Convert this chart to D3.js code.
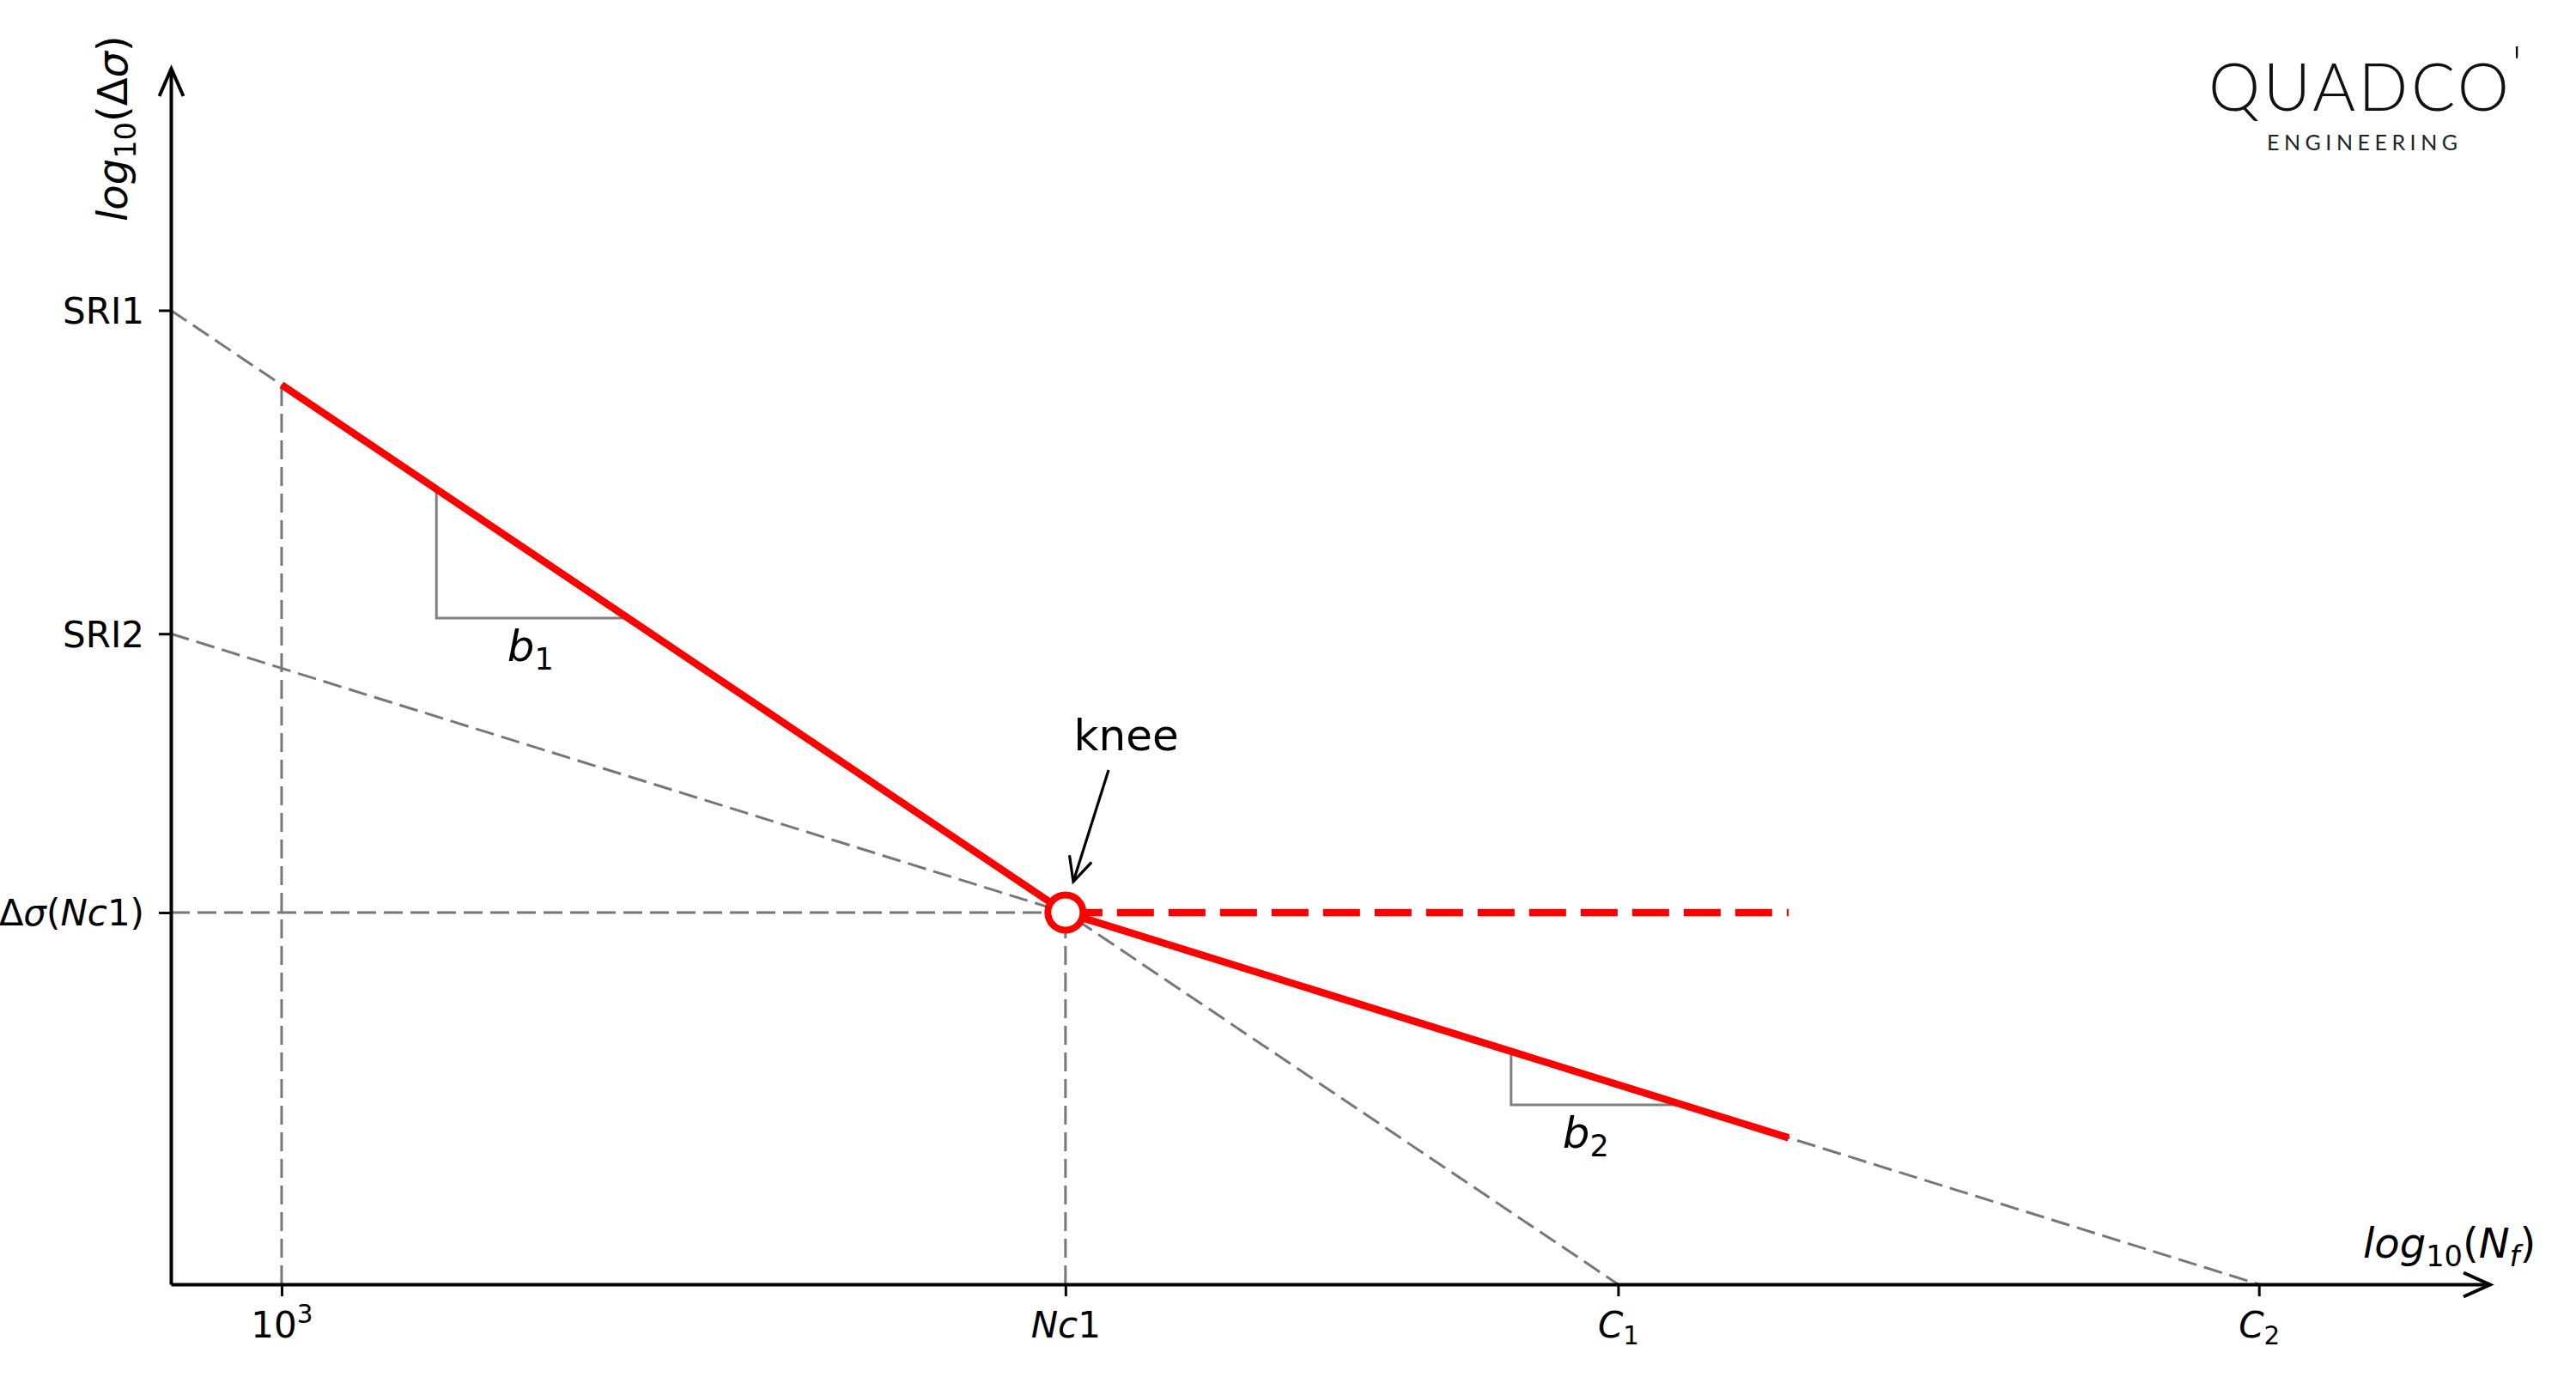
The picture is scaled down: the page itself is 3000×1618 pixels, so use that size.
<!DOCTYPE html>
<html>
<head>
<meta charset="utf-8">
<script src="https://cdn.jsdelivr.net/npm/d3@7"></script>
<style>
  html, body { margin: 0; padding: 0; background: #ffffff; }
  svg { display: block; }
</style>
</head>
<body>
<svg id="chart" width="3000" height="1618"></svg>
<script>
// ---------- data (schematic S-N curve, log10 units) ----------
const xDomain = [2.435, 14.27];            // log10(Nf) axis extent
const yDomain = [0, 6.54];                 // log10(Δσ) axis extent

const xTickValues = [3, 7, 9.82, 13.09];
const xTickLabels = ["10^{3}", "*Nc*1", "*C*_{1}", "*C*_{2}"];

const yTickValues = [5.24, 3.50, 2.00];
const yTickLabels = ["SRI1", "SRI2", "Δ*σ*(*Nc*1)"];

// grey dashed construction lines
const sri1Line   = [[2.435, 5.24], [9.82, 0]];
const sri2Line   = [[2.435, 3.50], [13.09, 0]];
const guide1000  = [[3, 0], [3, 4.839]];
const guideNc1   = [[7, 0], [7, 2.0]];
const guideKnee  = [[2.435, 2.0], [7, 2.0]];

// red S-N curve
const segment1   = [[3, 4.839], [7, 2.0]];
const segment2   = [[7, 2.0], [10.69, 0.788]];
const cutoffLine = [[7, 2.0], [10.69, 2.0]];
const kneePoint  = [7, 2.0];

// slope triangles
const triangle1  = [[3.79, 4.279], [3.79, 3.584], [4.769, 3.584]];
const triangle2  = [[9.274, 1.253], [9.274, 0.965], [10.152, 0.965]];

// annotations
const slopeLabels = [{ text: "*b*_{1}", at: [4.27, 3.353] }, { text: "*b*_{2}", at: [9.655, 0.734] }];
const kneeLabel   = { text: "knee", at: [7.31, 2.873] };
const kneeArrow   = [[7.22, 2.767], [7.04, 2.166]];

const xAxisLabel = "*log*_{10}(*N*_{*f*})";
const yAxisLabel = "*log*_{10}(Δ*σ*)";
const logoMain = "QUADCO";
const logoSub  = "ENGINEERING";

// ---------- setup ----------
const svg = d3.select("#chart");
const FONT = "'DejaVu Sans', sans-serif";
const x = d3.scaleLinear().domain(xDomain).range([199, 2900]);
const y = d3.scaleLinear().domain(yDomain).range([1496, 80]);
const line = d3.line().x(d => x(d[0])).y(d => y(d[1]));

// mini markup: *italic*, _{sub}, ^{sup}
function parseRich(str) {
  const runs = [];
  let italic = false, level = 0, i = 0, buf = "";
  const flush = () => { if (buf) { runs.push({ text: buf, italic, level }); buf = ""; } };
  while (i < str.length) {
    const c = str[i];
    if (c === "*") { flush(); italic = !italic; i++; }
    else if ((c === "_" || c === "^") && str[i + 1] === "{") { flush(); level = c === "_" ? -1 : 1; i += 2; }
    else if (c === "}" && level !== 0) { flush(); level = 0; i++; }
    else { buf += c; i++; }
  }
  flush();
  return runs;
}
function renderRich(textSel, str, fs) {
  let cur = 0;
  parseRich(str).forEach(r => {
    const off = r.level === -1 ? 0.2 * fs : (r.level === 1 ? -0.4 * fs : 0);
    textSel.append("tspan")
      .attr("dy", off - cur)
      .attr("font-size", r.level === 0 ? fs : 0.7 * fs)
      .attr("font-style", r.italic ? "italic" : "normal")
      .text(r.text);
    cur = off;
  });
}

// ---------- grey dashed construction lines ----------
const grey = "#777777";
[sri1Line, sri2Line, guide1000, guideNc1, guideKnee].forEach(pts => {
  svg.append("path").attr("d", line(pts))
    .attr("fill", "none").attr("stroke", grey)
    .attr("stroke-width", 3).attr("stroke-dasharray", "22,9");
});

// ---------- slope triangles ----------
[triangle1, triangle2].forEach(pts => {
  svg.append("path").attr("d", line(pts))
    .attr("fill", "none").attr("stroke", "#808080").attr("stroke-width", 3);
});

// ---------- red curve ----------
[segment1, segment2].forEach(pts => {
  svg.append("path").attr("d", line(pts))
    .attr("fill", "none").attr("stroke", "#ff0000").attr("stroke-width", 8.5);
});
svg.append("path").attr("d", line(cutoffLine))
  .attr("fill", "none").attr("stroke", "#ff0000").attr("stroke-width", 8.5)
  .attr("stroke-dasharray", "43,17");

svg.append("circle")
  .attr("cx", x(kneePoint[0])).attr("cy", y(kneePoint[1])).attr("r", 20.5)
  .attr("fill", "#ffffff").attr("stroke", "#ff0000").attr("stroke-width", 8);

// ---------- axes ----------
const gx = svg.append("g").attr("transform", `translate(0,${y(0)})`)
  .call(d3.axisBottom(x).tickValues(xTickValues).tickSize(14).tickSizeOuter(0).tickFormat(() => ""));
const gy = svg.append("g").attr("transform", `translate(${x(xDomain[0])},0)`)
  .call(d3.axisLeft(y).tickValues(yTickValues).tickSize(14).tickSizeOuter(0).tickFormat(() => ""));

[gx, gy].forEach(g => {
  g.attr("font-family", FONT).attr("font-size", null);
  g.select(".domain").attr("stroke", "#000").attr("stroke-width", 4);
  g.selectAll(".tick line").attr("stroke", "#000").attr("stroke-width", 3);
});

gx.selectAll(".tick text").each(function (d, i) {
  const t = d3.select(this).text(null).attr("y", 62).attr("dy", null)
    .attr("text-anchor", "middle").attr("font-size", 42).attr("fill", "#000");
  renderRich(t, xTickLabels[i], 42);
});
gy.selectAll(".tick text").each(function (d, i) {
  const t = d3.select(this).text(null).attr("x", -31).attr("dy", null).attr("y", 15)
    .attr("text-anchor", "end").attr("font-size", 42).attr("fill", "#000");
  renderRich(t, yTickLabels[i], 42);
});

// arrow heads on axes
const x0 = x(xDomain[0]) + 0.5, y0 = y(0) + 0.5;
const yTop = y(yDomain[1]), xEnd = x(xDomain[1]);
svg.append("path")
  .attr("d", `M${x0 - 14},${yTop + 32}L${x0},${yTop}L${x0 + 14},${yTop + 32}`)
  .attr("fill", "none").attr("stroke", "#000").attr("stroke-width", 4);
svg.append("path")
  .attr("d", `M${xEnd - 31},${y0 - 14}L${xEnd},${y0}L${xEnd - 31},${y0 + 14}`)
  .attr("fill", "none").attr("stroke", "#000").attr("stroke-width", 4);

// axis labels
const xl = svg.append("text").attr("x", 2752).attr("y", 1465)
  .attr("font-family", FONT).attr("font-size", 48).attr("fill", "#000");
renderRich(xl, xAxisLabel, 48);
const yl = svg.append("text").attr("transform", "translate(148,258) rotate(-90)")
  .attr("font-family", FONT).attr("font-size", 48).attr("fill", "#000");
renderRich(yl, yAxisLabel, 48);

// ---------- annotations ----------
slopeLabels.forEach(l => {
  const t = svg.append("text").attr("x", x(l.at[0])).attr("y", y(l.at[1]))
    .attr("text-anchor", "middle").attr("font-family", FONT).attr("font-size", 50).attr("fill", "#000");
  renderRich(t, l.text, 50);
});

svg.append("text").attr("x", x(kneeLabel.at[0])).attr("y", y(kneeLabel.at[1]))
  .attr("text-anchor", "middle").attr("font-family", FONT).attr("font-size", 50)
  .attr("fill", "#000").text(kneeLabel.text);

{
  const [p, q] = kneeArrow.map(d => [x(d[0]), y(d[1])]);
  svg.append("path").attr("d", line(kneeArrow))
    .attr("fill", "none").attr("stroke", "#000").attr("stroke-width", 3.2);
  const ang = Math.atan2(q[1] - p[1], q[0] - p[0]);
  const L = 31, spread = 0.45;
  const a1 = [q[0] - L * Math.cos(ang - spread), q[1] - L * Math.sin(ang - spread)];
  const a2 = [q[0] - L * Math.cos(ang + spread), q[1] - L * Math.sin(ang + spread)];
  svg.append("path").attr("d", `M${a1[0]},${a1[1]}L${q[0]},${q[1]}L${a2[0]},${a2[1]}`)
    .attr("fill", "none").attr("stroke", "#000").attr("stroke-width", 3.2);
}

// ---------- logo ----------
svg.append("text").attr("x", 2572).attr("y", 129)
  .attr("font-family", "Lato, 'Open Sans', sans-serif").attr("font-weight", 300)
  .attr("font-size", 76).attr("textLength", 350).attr("lengthAdjust", "spacing")
  .attr("fill", "#111").text(logoMain);
svg.append("text").attr("x", 2931).attr("y", 96)
  .attr("font-family", "Lato, 'Open Sans', sans-serif").attr("font-weight", 300)
  .attr("font-size", 60).attr("text-anchor", "middle")
  .attr("fill", "#111").text("'");
svg.append("text").attr("x", 2640).attr("y", 175)
  .attr("font-family", "Lato, 'Open Sans', sans-serif").attr("font-weight", 400)
  .attr("font-size", 25).attr("textLength", 222).attr("lengthAdjust", "spacing")
  .attr("fill", "#222").text(logoSub);
</script>
</body>
</html>
